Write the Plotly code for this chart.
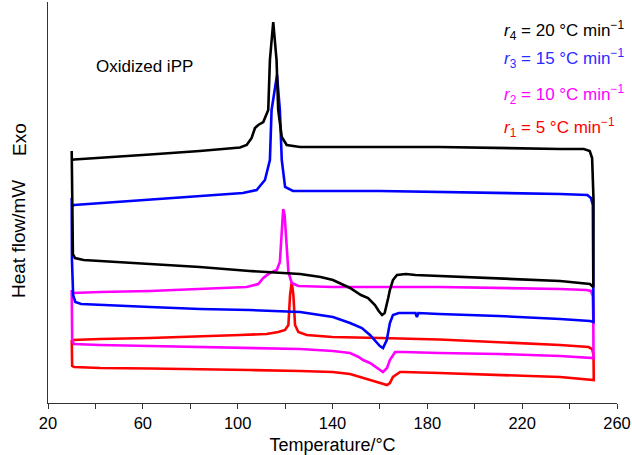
import plotly.graph_objects as go

# Temperature (°C) and heat-flow readings (pixel-derived readings, converted to mW below)
# r4 = 20 °C/min (black)
r4_heat_T = [30.0, 30.2, 30.5, 31.4, 35, 42, 63, 84, 105, 126.3, 135, 140.2, 147.4, 152.0, 155.0, 157.9, 159.5, 160.9, 162.0, 162.6, 163.5, 164.2, 165.5, 167.2, 171, 175, 185, 210, 236, 248.6, 250.0]
r4_heat_r = [151, 235, 254, 258, 260, 261, 264, 267, 271, 274, 277, 280, 288, 295, 298, 305, 311, 315, 313, 308, 298, 290, 280, 275, 274, 275, 276, 278, 281, 284, 287]
r4_cool_T = [250.1, 249.9, 249.5, 248.5, 246, 236, 210, 185, 160, 140, 126.3, 120.7, 118.6, 117.1, 116.4, 115.0, 113.6, 112.9, 110.8, 108.7, 107.3, 105.9, 103.8, 101, 84, 63, 42, 31, 30.1]
r4_cool_r = [200, 175, 158, 151, 149, 149, 148, 147, 147, 147, 147, 145, 137, 110, 60, 22, 60, 110, 122, 125, 128, 138, 145, 147.5, 151, 154.5, 157.5, 159.5, 160]

# r3 = 15 °C/min (blue)
r3_heat_T = [30.0, 30.1, 30.6, 31.5, 34, 42, 63, 84, 105, 126.3, 140.2, 147.4, 152.4, 155.8, 157.9, 160.0, 161.3, 162.9, 164.2, 165.5, 168, 175, 175.6, 176.2, 185, 210, 236, 248.6, 250.1]
r3_heat_r = [198, 260, 295, 302, 304, 305, 307, 309, 310, 312, 317, 323, 328, 335, 341, 346, 348, 340, 323, 315, 313, 313, 317, 313, 314, 316, 319, 321, 322]
r3_cool_T = [250.0, 249.8, 249.0, 247.5, 236, 210, 185, 160, 130, 123.3, 120.0, 118.6, 117.8, 116.6, 114.3, 113.6, 111.5, 108.0, 102.2, 84, 63, 42, 31, 30.1]
r3_cool_r = [240, 205, 198, 195, 194, 193, 192, 191, 191, 191, 187, 160, 110, 75, 110, 160, 180, 190, 193, 196, 200, 203, 205, 206]

# r2 = 10 °C/min (magenta)
r2_heat_T = [30.0, 30.2, 31, 42, 63, 84, 105, 126.3, 140.2, 147.4, 151.0, 152.9, 155.8, 158.8, 161.3, 163.0, 164.2, 166.4, 170, 185, 210, 236, 250.1]
r2_heat_r = [290, 340, 344, 345, 346, 347, 348, 349, 351, 353, 357, 360, 363, 368, 372, 368, 360, 352, 352, 353, 354, 356, 358]
r2_cool_T = [250.0, 249.8, 249.0, 247, 236, 210, 185, 160, 140, 125.6, 122.8, 121.4, 120.7, 119.8, 119.2, 118.6, 117.8, 116.5, 113.6, 110.8, 108.7, 103.8, 84, 63, 42, 31, 30.1]
r2_cool_r = [320, 296, 291, 290, 289, 288, 287, 287, 287, 286, 283, 272, 245, 215, 209, 228, 262, 270, 273, 278, 284, 287, 289, 291, 292, 293, 293]

# r1 = 5 °C/min (red)
r1_heat_T = [30.0, 30.2, 31, 42, 63, 84, 105, 126.3, 140, 147.4, 152.9, 157.9, 161.3, 163.0, 164.2, 165.5, 168.5, 170, 185, 210, 236, 250.2]
r1_heat_r = [340, 366, 367, 368, 368.5, 369, 370, 371, 372, 374, 378, 382, 384, 385, 383, 377, 372, 372, 373, 375, 377, 380]
r1_cool_T = [250.1, 249.5, 248, 236, 210, 185, 160, 140, 129.1, 125.6, 124.2, 123.5, 122.8, 122.1, 121.4, 120.0, 117.1, 112.2, 101, 84, 63, 42, 31, 30.1]
r1_cool_r = [355, 349, 347, 345, 342, 339.5, 338, 337, 335, 332, 325, 295, 282, 295, 325, 330, 332, 334, 335, 336.5, 338, 339, 340, 340]

x_tick_vals = [20, 40, 60, 80, 100, 120, 140, 160, 180, 200, 220, 240, 260]
x_tick_text = ["20", "", "60", "", "100", "", "140", "", "180", "", "220", "", "260"]

series = [
    ("r4", r4_heat_T, r4_heat_r, r4_cool_T, r4_cool_r, "#000000"),
    ("r3", r3_heat_T, r3_heat_r, r3_cool_T, r3_cool_r, "#0000ff"),
    ("r2", r2_heat_T, r2_heat_r, r2_cool_T, r2_cool_r, "#ff00ff"),
    ("r1", r1_heat_T, r1_heat_r, r1_cool_T, r1_cool_r, "#ff0000"),
]


def to_mw(readings):
    return [round(40.3 - v / 10.0, 2) for v in readings]


fig = go.Figure()
for name, hT, hr, cT, cr, col in reversed(series):
    fig.add_trace(go.Scatter(
        x=hT + cT, y=to_mw(hr) + to_mw(cr), mode="lines", name=name,
        line=dict(color=col, width=2.6), showlegend=False, hoverinfo="skip"))

FONT = "Liberation Sans, Arial, Helvetica, sans-serif"

fig.update_layout(
    width=632, height=455,
    margin=dict(l=48, r=15, t=2, b=52),
    paper_bgcolor="white", plot_bgcolor="white",
    font=dict(family=FONT, size=16, color="black"),
    xaxis=dict(range=[20, 260], tickvals=x_tick_vals, ticktext=x_tick_text,
               ticks="outside", ticklen=5, tickcolor="#333", showline=True,
               linecolor="#333", linewidth=1, showgrid=False, zeroline=False,
               tickfont=dict(size=16.5),
               title=dict(text="Temperature/°C", font=dict(size=18), standoff=7)),
    yaxis=dict(range=[0, 40.1], showline=True, linecolor="#333", linewidth=1,
               showticklabels=False, ticks="", showgrid=False, zeroline=False),
)

ann = [
    dict(text="Oxidized iPP", x=39.2, y=33.7, xanchor="left", yanchor="middle",
         font=dict(size=17, color="black")),
    dict(text="<i>r</i><sub>4</sub> = 20 °C min<sup>−1</sup>", x=211.5, y=37.3,
         xanchor="left", yanchor="middle", font=dict(size=17, color="#000000")),
    dict(text="<i>r</i><sub>3</sub> = 15 °C min<sup>−1</sup>", x=211.5, y=34.5,
         xanchor="left", yanchor="middle", font=dict(size=17, color="#2b2bff")),
    dict(text="<i>r</i><sub>2</sub> = 10 °C min<sup>−1</sup>", x=211.5, y=30.85,
         xanchor="left", yanchor="middle", font=dict(size=17, color="#ff00ff")),
    dict(text="<i>r</i><sub>1</sub> = 5 °C min<sup>−1</sup>", x=211.5, y=27.6,
         xanchor="left", yanchor="middle", font=dict(size=17, color="#ff0000")),
]
for a in ann:
    a.update(xref="x", yref="y", showarrow=False)
    fig.add_annotation(**a)

fig.add_annotation(text="Heat flow/mW", xref="paper", yref="paper", x=-0.051,
                   y=(403 - 239) / 401, textangle=-90, showarrow=False,
                   xanchor="center", yanchor="middle", font=dict(size=19))
fig.add_annotation(text="Exo", xref="paper", yref="paper", x=-0.051,
                   y=(403 - 139) / 401, textangle=-90, showarrow=False,
                   xanchor="center", yanchor="middle", font=dict(size=19))

fig.write_html("out.html")
